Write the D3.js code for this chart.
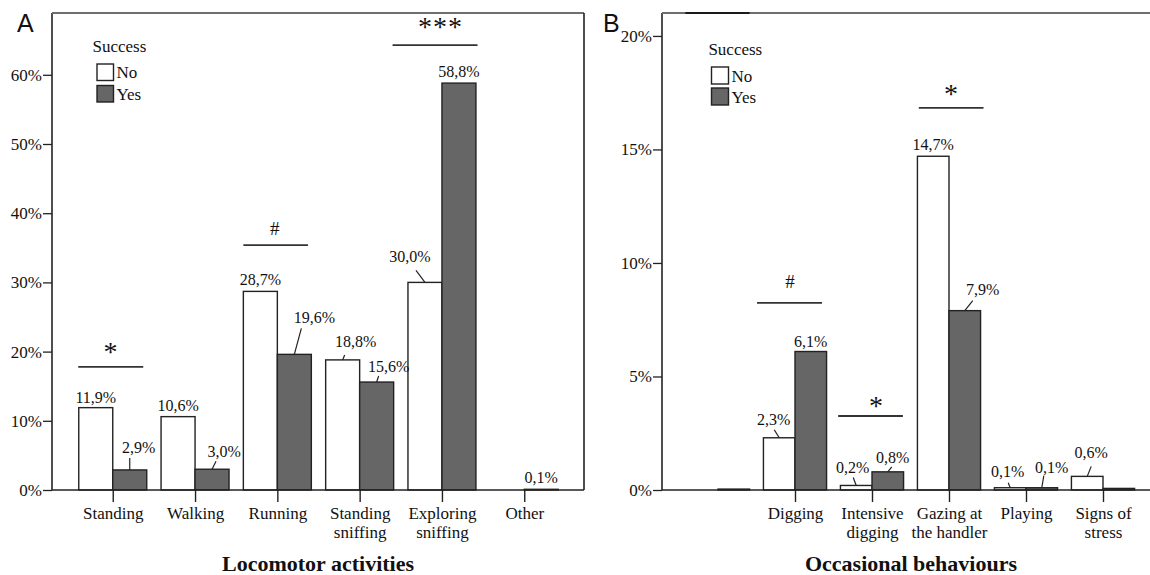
<!DOCTYPE html>
<html><head><meta charset="utf-8">
<script src="https://cdn.jsdelivr.net/npm/d3@7"></script>
<style>
body{margin:0;background:#fff}
svg{display:block}
text{font-family:"Liberation Serif","Times New Roman",serif;fill:#111}
text.letter{font-family:"Liberation Sans",Arial,sans-serif}
</style>
</head><body>
<svg id="c" width="1150" height="575"></svg>
<script>
// ---------- DATA ----------
const categoriesA = ["Standing", "Walking", "Running", "Standing\nsniffing", "Exploring\nsniffing", "Other"];
const noA  = [11.9, 10.6, 28.7, 18.8, 30.0, 0];
const yesA = [2.9, 3.0, 19.6, 15.6, 58.8, 0.1];
const yTicksA = [0, 10, 20, 30, 40, 50, 60];
const sigA = [
  {cat: 0, symbol: "*",   level: 17.8},
  {cat: 2, symbol: "#",   level: 35.4},
  {cat: 4, symbol: "***", level: 64.3}
];

const categoriesB = ["", "Digging", "Intensive\ndigging", "Gazing at\nthe handler", "Playing", "Signs of\nstress"];
const noB  = [0, 2.3, 0.2, 14.7, 0.1, 0.6];
const yesB = [0.04, 6.1, 0.8, 7.9, 0.1, 0.07];
const yTicksB = [0, 5, 10, 15, 20];
const sigB = [
  {cat: 1, symbol: "#", level: 8.24},
  {cat: 2, symbol: "*", level: 3.26},
  {cat: 3, symbol: "*", level: 16.83}
];

const seriesNames = ["No", "Yes"];
const legendTitle = "Success";
const titleA = "Locomotor activities";
const titleB = "Occasional behaviours";

// ---------- LAYOUT (positions only) ----------
// value label offsets per bar: [dx, dy, leaderDx, leaderDy] relative to bar top-centre; null = no label
const labelLayoutA = {
  No:  [[0,-5,0,0],[0,-6,0,0],[0,-6,0,0],[13,-13,2,-5],[-15,-20,-9,-12],null],
  Yes: [[9,-17,0,-12],[12,-12,4,-8],[20,-31,7,-26],[12,-10,2,-6],[0,-6,0,0],[0,-6,0,0]]
};
const labelLayoutB = {
  No:  [null,[-5.5,-13,-5,-8],[-3.5,-12.5,-3,-8],[0,-6,0,0],[-2.5,-11,-2,-5],[4,-18,4,-10]],
  Yes: [null,[0,-5,0,0],[5,-9,4,-5],[18,-16,8,-10],[10,-15,2,-12],null]
};
const sigLayoutA = [
  {x1:-34.5, x2:30.5, sx:-1.8, above:19},
  {x1:-34,   x2:30.7, sx:-2.6, above:17},
  {x1:-49.4, x2:35.6, sx:-1.4, above:22}
];
const sigLayoutB = [
  {x1:-38,   x2:27,   sx:-5,  above:21},
  {x1:-33.8, x2:30.9, sx:4.4, above:14},
  {x1:-30.2, x2:34.5, sx:2.5, above:18}
];

const svg = d3.select("#c");
const fmt = v => d3.format(".1f")(v).replace(".", ",") + "%";

function panel(o) {
  const g = svg.append("g");
  const y = d3.scaleLinear().domain([0, o.yMax]).range([o.bottom, o.top]);
  const x = d3.scalePoint().domain(o.cats).range(o.xRange).padding(0.5);
  const step = x.step();
  const barW = step * o.barFrac;
  const sub = d3.scaleBand().domain(seriesNames).range([-barW, barW]);

  // y axis
  const ya = g.append("g").attr("transform", `translate(${o.left},0)`)
    .call(d3.axisLeft(y).tickValues(o.yTicks).tickSize(9).tickPadding(1).tickFormat(d => d + "%"));
  ya.select(".domain").remove();
  ya.selectAll(".tick line").attr("stroke", "#222").attr("stroke-width", 1.3);
  ya.selectAll(".tick text").attr("font-size", 17).attr("fill", "#111");

  // frame
  g.append("line").attr("x1", o.left).attr("x2", o.left).attr("y1", o.top).attr("y2", o.bottom)
    .attr("stroke", "#222").attr("stroke-width", 1.6);
  g.append("line").attr("x1", o.left).attr("x2", o.right).attr("y1", o.top).attr("y2", o.top)
    .attr("stroke", "#6e6e6e").attr("stroke-width", 2);
  if (o.rightLine) g.append("line").attr("x1", o.right).attr("x2", o.right).attr("y1", o.top).attr("y2", o.bottom)
    .attr("stroke", "#222").attr("stroke-width", 1.6);

  // bars
  const rows = o.cats.map((c, i) => ({c, i, vals: [o.no[i], o.yes[i]]}));
  rows.forEach(r => {
    seriesNames.forEach((s, k) => {
      const v = r.vals[k];
      if (v <= 0) return;
      const x0 = x(r.c) + sub(s);
      g.append("rect")
        .attr("x", x0).attr("y", y(v))
        .attr("width", sub.bandwidth()).attr("height", Math.max(0, y(0) - y(v)))
        .attr("fill", k === 0 ? "#fff" : "#666666")
        .attr("stroke", "#222").attr("stroke-width", 1.4);
    });
  });

  // x axis
  const xa = g.append("g").attr("transform", `translate(0,${o.bottom})`)
    .call(d3.axisBottom(x).tickSize(12).tickFormat(() => ""));
  xa.select(".domain").attr("d", `M${o.left},0H${o.axisEnd}`).attr("stroke", "#222").attr("stroke-width", 1.6);
  xa.selectAll(".tick line").attr("stroke", "#222").attr("stroke-width", 1.4)
    .attr("display", d => d === "" ? "none" : null);
  xa.selectAll(".tick").each(function(d) {
    const t = d3.select(this).append("text").attr("text-anchor", "middle")
      .attr("font-size", 17).attr("fill", "#111");
    d.split("\n").forEach((line, li) => {
      t.append("tspan").attr("x", 0).attr("y", 29 + li * 19).text(line);
    });
  });

  // hidden-category artefact on top frame
  if (o.topMark) {
    const c = x(o.cats[o.topMark.cat]);
    g.append("line").attr("x1", c - barW - 1).attr("x2", c + barW).attr("y1", o.top).attr("y2", o.top)
      .attr("stroke", "#1a1a1a").attr("stroke-width", 2);
  }

  // value labels
  rows.forEach(r => {
    seriesNames.forEach((s, k) => {
      const L = o.labels[s][r.i];
      if (!L) return;
      const v = r.vals[k];
      const cx = x(r.c) + sub(s) + sub.bandwidth() / 2;
      const ty = y(v);
      if (L[2] !== 0 || L[3] !== 0) {
        g.append("line").attr("x1", cx).attr("y1", ty).attr("x2", cx + L[2]).attr("y2", ty + L[3])
          .attr("stroke", "#222").attr("stroke-width", 1.2);
      }
      g.append("text").attr("x", cx + L[0]).attr("y", ty + L[1])
        .attr("text-anchor", "middle").attr("font-size", 16).text(fmt(v));
    });
  });

  // significance markers
  o.sig.forEach((s, i) => {
    const L = o.sigLayout[i];
    const c = x(o.cats[s.cat]);
    const ly = y(s.level);
    g.append("line").attr("x1", c + L.x1).attr("x2", c + L.x2).attr("y1", ly).attr("y2", ly)
      .attr("stroke", "#333").attr("stroke-width", 1.8);
    const isStar = s.symbol.startsWith("*");
    g.append("text").attr("x", c + L.sx).attr("y", ly - L.above + (isStar ? 13 : 6.5))
      .attr("text-anchor", "middle")
      .attr("font-size", isStar ? 28 : 19)
      .attr("letter-spacing", isStar ? 1 : 0)
      .text(s.symbol);
  });

  // legend
  const lg = g.append("g");
  lg.append("text").attr("x", o.legend.x).attr("y", o.legend.y + 6).attr("font-size", 17).text(legendTitle);
  seriesNames.forEach((s, k) => {
    const by = o.legend.boxY + k * o.legend.gap;
    lg.append("rect").attr("x", o.legend.boxX).attr("y", by)
      .attr("width", o.legend.box).attr("height", o.legend.box)
      .attr("fill", k === 0 ? "#fff" : "#666666").attr("stroke", "#222").attr("stroke-width", 1.4);
    lg.append("text").attr("x", o.legend.boxX + o.legend.box + 3).attr("y", by + o.legend.box / 2 + 6)
      .attr("font-size", 17).text(s);
  });

  // axis title
  g.append("text").attr("x", o.titleX).attr("y", 571).attr("text-anchor", "middle")
    .attr("font-size", 22).attr("font-weight", "bold").text(o.title);

  // panel letter
  g.append("text").attr("class", "letter").attr("x", o.letterX).attr("y", 32)
    .attr("font-size", 25).text(o.letter);
}

panel({
  cats: categoriesA, no: noA, yes: yesA, yTicks: yTicksA, yMax: 68.93,
  left: 52, right: 584, axisEnd: 584, rightLine: true, top: 13, bottom: 490,
  xRange: [71.6, 565.4], barFrac: 0.413,
  labels: labelLayoutA, sig: sigA, sigLayout: sigLayoutA,
  legend: {x: 92.5, y: 46, boxX: 97, boxY: 64, box: 16.5, gap: 21.5},
  title: titleA, titleX: 318, letter: "A", letterX: 17
});
panel({
  cats: categoriesB, no: noB, yes: yesB, yTicks: yTicksB, yMax: 21.01,
  left: 662, right: 1152, axisEnd: 1152, rightLine: false, top: 13, bottom: 490,
  xRange: [679.5, 1141.5], barFrac: 0.41,
  labels: labelLayoutB, sig: sigB, sigLayout: sigLayoutB,
  legend: {x: 708.4, y: 49, boxX: 711.5, boxY: 67, box: 17, gap: 21},
  title: titleB, titleX: 911, letter: "B", letterX: 603,
  topMark: {cat: 0}
});
</script>
</body></html>
